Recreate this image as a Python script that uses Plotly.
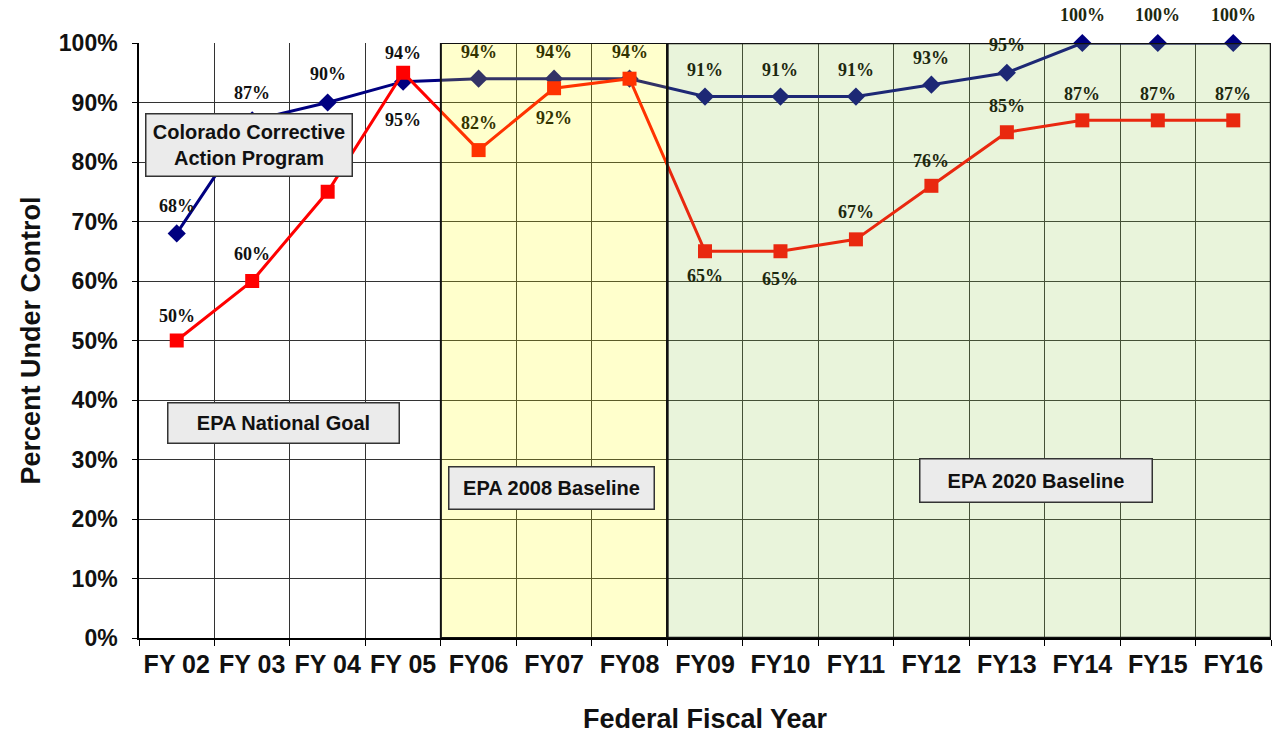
import plotly.graph_objects as go

# ---------------- data ----------------
years = ["FY 02", "FY 03", "FY 04", "FY 05", "FY06", "FY07", "FY08", "FY09",
         "FY10", "FY11", "FY12", "FY13", "FY14", "FY15", "FY16"]
colorado = [68, 87, 90, 93.5, 94, 94, 94, 91, 91, 91, 93, 95, 100, 100, 100]
national_goal = [50, 60, 75, 95, 82, 92.4, 94, 65, 65, 67, 76, 85, 87, 87, 87]
y_ticks = [0, 10, 20, 30, 40, 50, 60, 70, 80, 90, 100]
y_tick_labels = [f"{t}%" for t in y_ticks]

box_texts = ["Colorado Corrective<br>Action Program", "EPA National Goal",
             "EPA 2008 Baseline", "EPA 2020 Baseline"]

# ---------------- styling ----------------
BLUE = "#000080"
RED = "#FF0000"
GRID = "#333333"
SANS = "Liberation Sans, Arial, sans-serif"
SERIF = "Liberation Serif, Times New Roman, serif"

# vertical pixel offset of each value label (None = no visible label)
blue_off = [27, 27, 29, 29, 27, 27, 27, 27, 27, 27, 27, 28, 28, 28, 28]
red_off = [25, 27, None, -47, 27, -30, None, -25, -28, 27, 25, 26, 26, 26, 26]

# label colour seen through the translucent bands
def label_color(i):
    if i <= 3:
        return "#111111"
    if i <= 6:
        return "rgb(51,51,0)"
    return "rgb(29,40,15)"

fig = go.Figure()

fig.add_trace(go.Scatter(
    x=years, y=colorado, mode="lines+markers",
    line=dict(color=BLUE, width=3),
    marker=dict(symbol="diamond", size=14, color=BLUE),
    cliponaxis=False, showlegend=False, hoverinfo="skip"))

fig.add_trace(go.Scatter(
    x=years, y=national_goal, mode="lines+markers",
    line=dict(color=RED, width=3),
    marker=dict(symbol="square", size=14, color=RED),
    cliponaxis=False, showlegend=False, hoverinfo="skip"))

annotations = []
for series, offs in ((colorado, blue_off), (national_goal, red_off)):
    for i, (cat, v) in enumerate(zip(years, series)):
        if offs[i] is None:
            continue
        annotations.append(dict(
            x=cat, y=v, xref="x", yref="y", text=f"{round(v)}%",
            showarrow=False, yshift=offs[i],
            font=dict(family=SERIF, size=18, color=label_color(i), weight="bold")))

# text boxes (paper coordinates)
box_specs = [
    (0.0974, 0.829, 207, 63),
    (0.128, 0.362, 232, 41),
    (0.3648, 0.2513, 206, 43),
    (0.792, 0.2655, 233, 44),
]
for txt, (bx, by, bw, bh) in zip(box_texts, box_specs):
    annotations.append(dict(
        x=bx, y=by, xref="paper", yref="paper", text=txt, showarrow=False,
        width=bw - 2, height=bh - 2, borderpad=0,
        bgcolor="#EBEBEB", bordercolor="#333333", borderwidth=1.5,
        xanchor="center", yanchor="middle", align="center",
        font=dict(family=SANS, size=20, color="#111111", weight="bold")))

shapes = [
    dict(type="rect", xref="x", yref="y", x0=3.5, x1=6.5, y0=0, y1=100,
         fillcolor="rgba(255,255,0,0.2)", line=dict(width=0), layer="above"),
    dict(type="rect", xref="x", yref="y", x0=6.5, x1=14.5, y0=0, y1=100,
         fillcolor="rgba(145,200,75,0.2)", line=dict(width=0), layer="above"),
    dict(type="rect", xref="x", yref="y", x0=3.5, x1=6.5, y0=0, y1=100,
         fillcolor="rgba(0,0,0,0)", line=dict(color="#111111", width=2), layer="above"),
    dict(type="rect", xref="x", yref="y", x0=6.5, x1=14.5, y0=0, y1=100,
         fillcolor="rgba(0,0,0,0)", line=dict(color="#111111", width=2.5), layer="above"),
]

fig.update_layout(
    width=1283, height=736,
    margin=dict(l=139, r=12, t=43, b=98),
    paper_bgcolor="white", plot_bgcolor="white",
    annotations=annotations, shapes=shapes,
    xaxis=dict(
        type="category", range=[-0.5, 14.5], tickson="boundaries",
        ticks="outside", ticklen=6, tickcolor="black", automargin=False,
        tickangle=0, ticklabelstandoff=3,
        showgrid=True, gridcolor=GRID, gridwidth=1,
        showline=True, linecolor="black", linewidth=1.5,
        tickfont=dict(family=SANS, size=25, color="#111111", weight="bold"),
        title=dict(text="Federal Fiscal Year", standoff=32,
                   font=dict(family=SANS, size=27, color="#111111", weight="bold")),
    ),
    yaxis=dict(
        range=[0, 100], tickvals=y_ticks, ticktext=y_tick_labels,
        ticks="outside", ticklen=5, tickcolor="black", automargin=False,
        ticklabelstandoff=10,
        showgrid=True, gridcolor=GRID, gridwidth=1, zeroline=False,
        showline=True, linecolor="black", linewidth=1.5,
        tickfont=dict(family=SANS, size=23, color="#111111", weight="bold"),
        title=dict(text="Percent Under Control", standoff=10,
                   font=dict(family=SANS, size=27, color="#111111", weight="bold")),
    ),
)

fig.write_html("out.html", config={"displayModeBar": False},
               post_script="document.body.style.margin='0';")
